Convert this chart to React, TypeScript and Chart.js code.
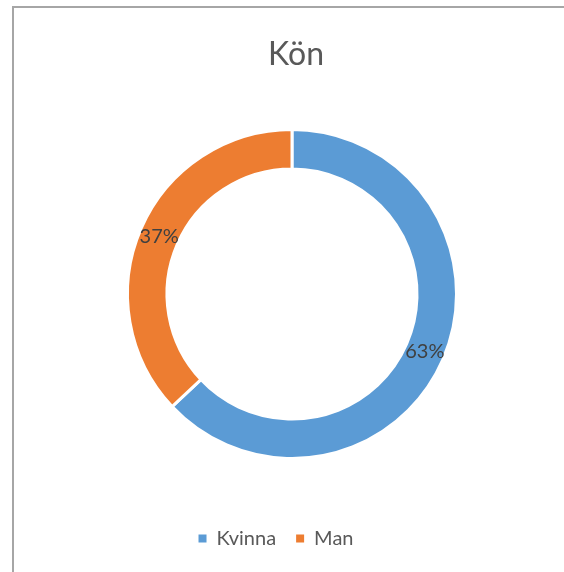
import React, { useEffect, useRef } from "react";
import { Chart, registerables } from "chart.js";

Chart.register(...registerables);

const categories = ["Kvinna", "Man"];
const values = [63, 37];
const labelsText = ["63%", "37%"];
const colors = ["#5B9BD5", "#ED7D31"];
const titleText = "Kön";

const FONT = "Lato, 'Open Sans', sans-serif";

const dataLabelPlugin = {
  id: "dataLabels",
  afterDatasetsDraw(chart: any) {
    const ctx = chart.ctx;
    const meta = chart.getDatasetMeta(0);
    ctx.save();
    ctx.font = `20px ${FONT}`;
    ctx.fillStyle = "#404040";
    ctx.textAlign = "center";
    ctx.textBaseline = "middle";
    meta.data.forEach((arc: any, i: number) => {
      const p = arc.tooltipPosition();
      ctx.fillText(labelsText[i], p.x, p.y);
    });
    ctx.restore();
  },
};

const shiftPlugin = {
  id: "shiftBoxes",
  afterLayout(chart: any) {
    if (chart.legend) {
      chart.legend.left -= 16;
      chart.legend.right -= 16;
    }
    if (chart.titleBlock) {
      chart.titleBlock.left += 4;
      chart.titleBlock.right += 4;
    }
  },
};

export default function App() {
  const ref = useRef<HTMLCanvasElement>(null);
  useEffect(() => {
    const defaultGen = (Chart as any).overrides.doughnut.plugins.legend.labels.generateLabels;
    const chart = new Chart(ref.current!, {
      type: "doughnut",
      data: {
        labels: categories,
        datasets: [
          {
            data: values,
            backgroundColor: colors,
            borderColor: "#ffffff",
            borderWidth: 3,
            radius: 164.5,
            cutout: "76%",
          },
        ],
      },
      options: {
        responsive: false,
        animation: false,
        layout: { padding: { left: 20, right: 0, top: 0, bottom: 13.5 } },
        plugins: {
          title: {
            display: true,
            text: titleText,
            color: "#595959",
            font: { family: FONT, size: 32, weight: "normal" },
            padding: { top: 35.8, bottom: 5.3 },
          },
          legend: {
            position: "bottom",
            labels: {
              boxWidth: 8,
              boxHeight: 8,
              padding: 20,
              color: "#595959",
              font: { family: FONT, size: 20 },
              generateLabels: (c: any) =>
                defaultGen(c).map((l: any) => ({ ...l, lineWidth: 0, strokeStyle: l.fillStyle })),
            },
          },
          tooltip: { enabled: false },
        },
      },
      plugins: [dataLabelPlugin, shiftPlugin],
    });
    return () => chart.destroy();
  }, []);
  return (
    <div>
      <div
        style={{
          position: "fixed",
          left: 12,
          top: 6,
          width: 700,
          height: 700,
          borderLeft: "2px solid #a6a6a6",
          borderTop: "2px solid #a6a6a6",
          boxSizing: "border-box",
        }}
      />
      <canvas
        ref={ref}
        width={564}
        height={572}
        style={{ position: "fixed", left: 0, top: 0, width: 564, height: 572 }}
      />
    </div>
  );
}
